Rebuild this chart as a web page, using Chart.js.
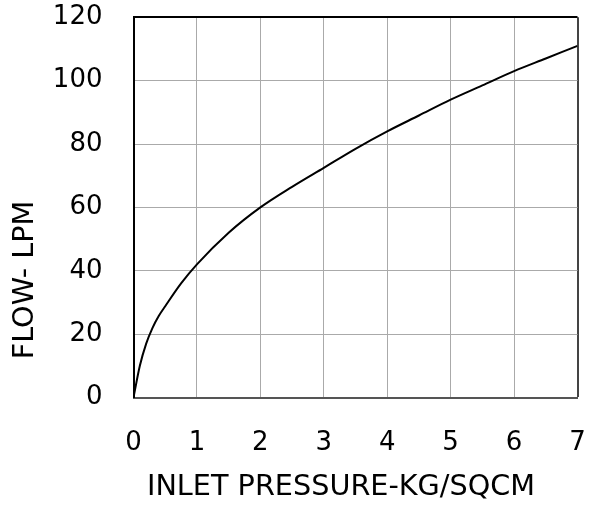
<!DOCTYPE html>
<html>
<head>
<meta charset="utf-8">
<script src="https://cdn.jsdelivr.net/npm/chart.js@4/dist/chart.umd.min.js"></script>
<style>
  html, body { margin: 0; padding: 0; background: #fff; }
  #wrap { width: 593px; height: 508px; }
</style>
</head>
<body>
<div id="wrap"><canvas id="myChart" width="593" height="508"></canvas></div>
<script>
// Flow curve: inlet pressure (kg/sq cm) vs flow (LPM)
const pressure = [0, 0.1, 0.2, 0.3, 0.4, 0.5, 0.75, 1, 1.5, 2, 2.5, 3, 3.5, 4, 4.5, 5, 5.5, 6, 6.5, 7];
const flow = [0, 10, 17, 22, 25.8, 28.8, 36, 42, 52, 60, 66.5, 72.5, 78.5, 84, 89, 94, 98.5, 103, 107, 111];

const xTitle = 'INLET PRESSURE-KG/SQCM';
const yTitle = 'FLOW- LPM';

const fontFamily = '"DejaVu Sans", Verdana, sans-serif';

// axis titles sit off-centre, so they are painted here instead of via scale.title
const axisTitles = {
  id: 'axisTitles',
  afterDraw(chart) {
    const ctx = chart.ctx;
    ctx.save();
    ctx.fillStyle = '#000';
    ctx.font = '28.7px ' + fontFamily;
    ctx.textAlign = 'center';
    ctx.textBaseline = 'middle';
    ctx.fillText(xTitle, 341, 488);
    ctx.translate(26, 280);
    ctx.rotate(-Math.PI / 2);
    ctx.fillText(yTitle, 0, 0);
    ctx.restore();
  }
};

// drop the label overhang so the plot area follows layout.padding only
function noOverhang(scale) {
  scale.paddingTop = 0;
  scale.paddingRight = 0;
  scale.paddingLeft = 0;
  scale.paddingBottom = 0;
}

const ctx = document.getElementById('myChart').getContext('2d');
new Chart(ctx, {
  type: 'line',
  data: {
    datasets: [{
      data: pressure.map((p, i) => ({ x: p, y: flow[i] })),
      borderColor: '#000',
      borderWidth: 2,
      pointRadius: 0,
      cubicInterpolationMode: 'monotone',
      fill: false
    }]
  },
  options: {
    responsive: false,
    animation: false,
    layout: { padding: { top: 17.3, right: 15.5, left: 0, bottom: 0 } },
    plugins: {
      legend: { display: false },
      tooltip: { enabled: false }
    },
    scales: {
      x: {
        type: 'linear',
        min: 0,
        max: 7,
        ticks: {
          stepSize: 1,
          color: '#000',
          padding: 30,
          maxRotation: 0,
          font: { family: fontFamily, size: 26 }
        },
        grid: {
          drawTicks: false,
          color: ctx => ctx.tick && ctx.tick.value === 7 ? '#444' : '#aaa',
          lineWidth: ctx => ctx.tick && ctx.tick.value === 7 ? 2 : 1
        },
        border: { color: '#555', width: 2 },
        afterFit(scale) {
          scale.height = 110.5;
          noOverhang(scale);
        }
      },
      y: {
        min: 0,
        max: 120,
        ticks: {
          stepSize: 20,
          color: '#000',
          padding: 31,
          font: { family: fontFamily, size: 26 }
        },
        grid: {
          drawTicks: false,
          color: ctx => ctx.tick && ctx.tick.value === 120 ? '#000' : '#aaa',
          lineWidth: ctx => ctx.tick && ctx.tick.value === 120 ? 2 : 1
        },
        border: { color: '#000', width: 2 },
        afterFit(scale) {
          scale.width = 133.5;
          noOverhang(scale);
        }
      }
    }
  },
  plugins: [axisTitles]
});
</script>
</body>
</html>
